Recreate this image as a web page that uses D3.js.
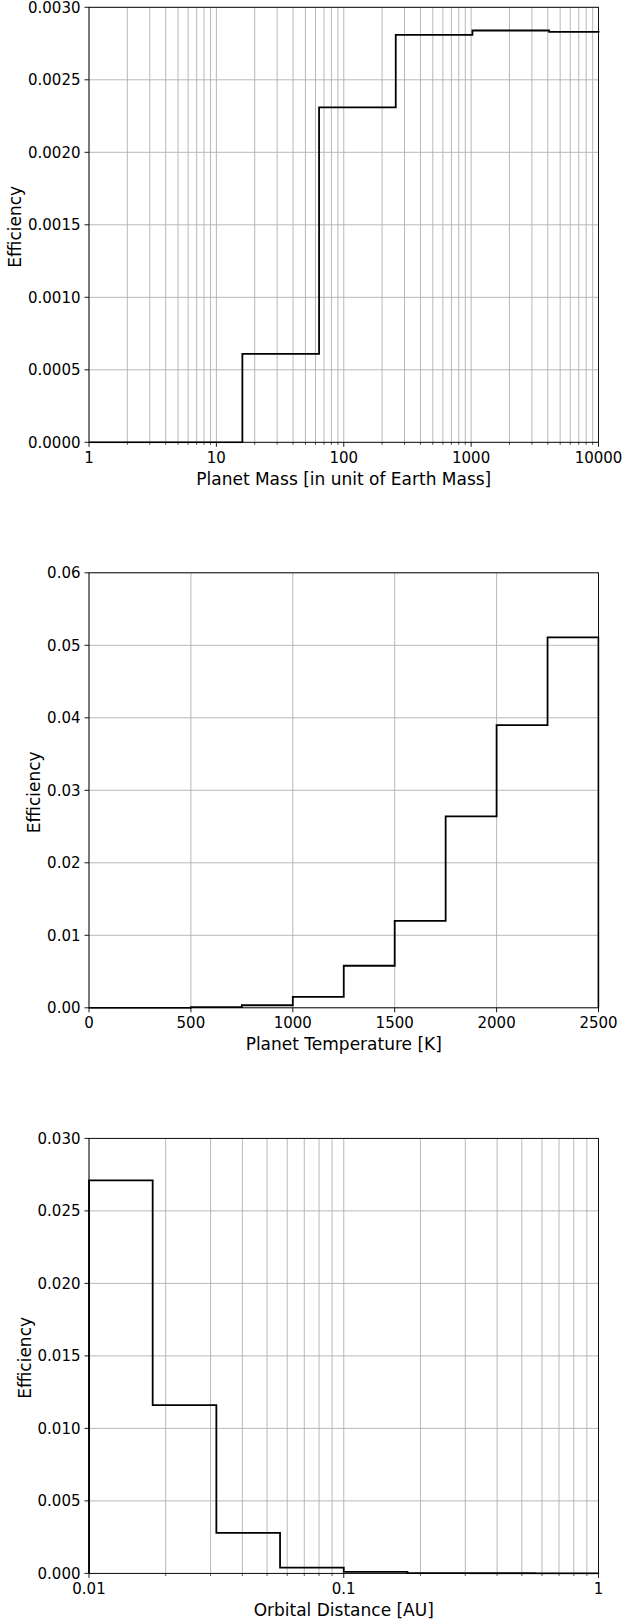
<!DOCTYPE html>
<html>
<head>
<meta charset="utf-8">
<script src="https://cdn.jsdelivr.net/npm/d3@7"></script>
<style>
  html, body { margin: 0; padding: 0; background: #fff; }
  svg { display: block; }
  text { font-family: "DejaVu Sans", sans-serif; fill: #000; }
</style>
</head>
<body>
<svg id="chart" width="626" height="1621"></svg>
<script>
// ---- Data ----
const massEdges = [1, 4, 16, 64, 256, 1024, 4096, 16384];
const massEff   = [0, 0, 0.00061, 0.00231, 0.00281, 0.00284, 0.00283];
const massTicks = [1, 10, 100, 1000, 10000];
const massYTicks = [0, 0.0005, 0.0010, 0.0015, 0.0020, 0.0025, 0.0030];

const tempEdges = [0, 250, 500, 750, 1000, 1250, 1500, 1750, 2000, 2250, 2500];
const tempEff   = [0, 0, 0.0001, 0.00035, 0.0015, 0.0058, 0.0120, 0.0264, 0.0390, 0.0511];
const tempTicks = [0, 500, 1000, 1500, 2000, 2500];
const tempYTicks = [0, 0.01, 0.02, 0.03, 0.04, 0.05, 0.06];

const distEdges = [0.01, 0.01778, 0.03162, 0.05623, 0.1, 0.1778, 0.3162, 0.5623, 1];
const distEff   = [0.0271, 0.0116, 0.0028, 0.0004, 0.0001, 0.00002, 0.00001, 0.000005];
const distTicks = [0.01, 0.1, 1];
const distYTicks = [0, 0.005, 0.010, 0.015, 0.020, 0.025, 0.030];

const panels = [
  { top: 7.3, log: true, xDomain: [1, 10000], yDomain: [0, 0.003], edges: massEdges, vals: massEff,
    xTicks: massTicks, yTicks: massYTicks, yDec: 4, xLabel: "Planet Mass [in unit of Earth Mass]" },
  { top: 572.8, log: false, xDomain: [0, 2500], yDomain: [0, 0.06], edges: tempEdges, vals: tempEff,
    xTicks: tempTicks, yTicks: tempYTicks, yDec: 2, xLabel: "Planet Temperature [K]" },
  { top: 1138.4, log: true, xDomain: [0.01, 1], yDomain: [0, 0.03], edges: distEdges, vals: distEff,
    xTicks: distTicks, yTicks: distYTicks, yDec: 3, xLabel: "Orbital Distance [AU]" }
];

const svg = d3.select("#chart");
const left = 89, right = 598.5, H = 435;
const gridColor = "#b0b0b0";

panels.forEach((p, i) => {
  const top = p.top, bottom = top + H;
  const x = (p.log ? d3.scaleLog() : d3.scaleLinear()).domain(p.xDomain).range([left, right]);
  const y = d3.scaleLinear().domain(p.yDomain).range([bottom, top]);
  const g = svg.append("g");

  // minor ticks for log axes
  let minor = [];
  if (p.log) {
    const lo = Math.log10(p.xDomain[0]), hi = Math.log10(p.xDomain[1]);
    for (let e = lo; e < hi; e++) {
      for (let m = 2; m <= 9; m++) minor.push(m * Math.pow(10, e));
    }
  }

  // grid
  const grid = g.append("g");
  grid.selectAll("line.gx").data(p.xTicks.concat(minor)).enter().append("line")
    .attr("x1", d => x(d)).attr("x2", d => x(d)).attr("y1", top).attr("y2", bottom)
    .attr("stroke", gridColor).attr("stroke-width", 0.9);
  grid.selectAll("line.gy").data(p.yTicks).enter().append("line")
    .attr("x1", left).attr("x2", right).attr("y1", d => y(d)).attr("y2", d => y(d))
    .attr("stroke", gridColor).attr("stroke-width", 0.9);

  // step histogram outline
  const pts = [[p.edges[0], 0]];
  p.vals.forEach((v, k) => { pts.push([p.edges[k], v]); pts.push([p.edges[k + 1], v]); });
  pts.push([p.edges[p.edges.length - 1], 0]);
  const clipId = "clip" + i;
  svg.append("clipPath").attr("id", clipId).append("rect")
    .attr("x", left - 1).attr("y", top - 1).attr("width", right - left + 2).attr("height", H + 2);
  g.append("path")
    .attr("d", d3.line().x(d => x(d[0])).y(d => y(d[1]))(pts))
    .attr("fill", "none").attr("stroke", "#000").attr("stroke-width", 1.8)
    .attr("stroke-linejoin", "miter")
    .attr("clip-path", `url(#${clipId})`);

  // frame
  g.append("rect").attr("x", left).attr("y", top).attr("width", right - left).attr("height", H)
    .attr("fill", "none").attr("stroke", "#000").attr("stroke-width", 0.9);

  // x axis ticks
  const xa = g.append("g");
  xa.selectAll("line.mj").data(p.xTicks).enter().append("line")
    .attr("x1", d => x(d)).attr("x2", d => x(d)).attr("y1", bottom).attr("y2", bottom + 4.5)
    .attr("stroke", "#000").attr("stroke-width", 0.9);
  xa.selectAll("line.mn").data(minor).enter().append("line")
    .attr("x1", d => x(d)).attr("x2", d => x(d)).attr("y1", bottom).attr("y2", bottom + 2.5)
    .attr("stroke", "#000").attr("stroke-width", 0.7);
  xa.selectAll("text").data(p.xTicks).enter().append("text")
    .attr("x", d => x(d)).attr("y", bottom + 20.3)
    .attr("text-anchor", "middle").attr("font-size", 15)
    .text(d => p.log ? String(+d.toPrecision(6)) : String(d));

  // y axis ticks
  const ya = g.append("g");
  ya.selectAll("line").data(p.yTicks).enter().append("line")
    .attr("x1", left - 4.5).attr("x2", left).attr("y1", d => y(d)).attr("y2", d => y(d))
    .attr("stroke", "#000").attr("stroke-width", 0.9);
  const yl = ya.selectAll("text").data(p.yTicks).enter().append("text")
    .attr("x", left - 8.5).attr("y", d => y(d) + 5.4)
    .attr("text-anchor", "end").attr("font-size", 15)
    .text(d => d.toFixed(p.yDec));
  let maxW = 0;
  yl.each(function () { maxW = Math.max(maxW, this.getComputedTextLength()); });

  // axis labels
  g.append("text").attr("x", (left + right) / 2).attr("y", bottom + 42.5)
    .attr("text-anchor", "middle").attr("font-size", 17).text(p.xLabel);
  const bx = left - 8.5 - maxW - 7;
  g.append("text").attr("transform", `translate(${bx},${(top + bottom) / 2 + 2}) rotate(-90)`)
    .attr("text-anchor", "middle").attr("font-size", 17).text("Efficiency");
});
</script>
</body>
</html>
